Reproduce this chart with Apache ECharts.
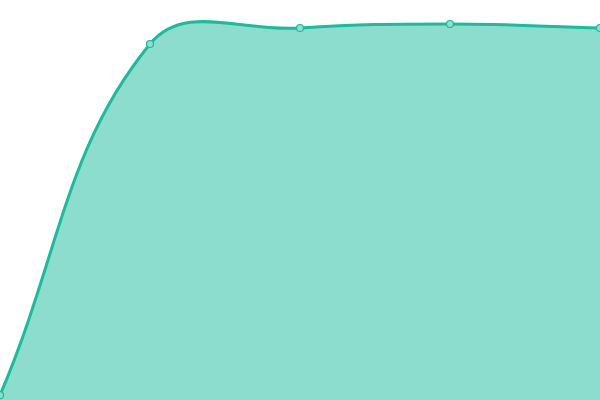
<!DOCTYPE html>
<html><head><meta charset="utf-8">
<script src="https://cdn.jsdelivr.net/npm/echarts@6/dist/echarts.min.js"></script>
<style>html,body{margin:0;padding:0;background:#fff}#c{width:600px;height:400px}</style>
</head><body><div id="c"></div>
<script>
const categories = ['A', 'B', 'C', 'D', 'E'];
const values = [1.2, 89, 93, 94, 93];
const TENSION = 0.4;
const LINE_COLOR = '#1abc9c';

function splinePath(pts, baseY) {
  const n = pts.length;
  const cps = [];
  for (let i = 0; i < n; i++) {
    const prev = pts[Math.max(0, i - 1)], cur = pts[i], next = pts[Math.min(n - 1, i + 1)];
    const d01 = Math.hypot(cur[0] - prev[0], cur[1] - prev[1]);
    const d12 = Math.hypot(next[0] - cur[0], next[1] - cur[1]);
    let s01 = d01 / (d01 + d12), s12 = d12 / (d01 + d12);
    if (!isFinite(s01)) s01 = 0;
    if (!isFinite(s12)) s12 = 0;
    const fa = TENSION * s01, fb = TENSION * s12;
    cps.push({
      before: [cur[0] - fa * (next[0] - prev[0]), cur[1] - fa * (next[1] - prev[1])],
      after: [cur[0] + fb * (next[0] - prev[0]), cur[1] + fb * (next[1] - prev[1])]
    });
  }
  let line = 'M' + pts[0][0] + ' ' + pts[0][1];
  for (let i = 1; i < n; i++) {
    const a = cps[i - 1].after, b = cps[i].before;
    line += ' C' + a[0] + ' ' + a[1] + ' ' + b[0] + ' ' + b[1] + ' ' + pts[i][0] + ' ' + pts[i][1];
  }
  const area = line + ' L' + pts[n - 1][0] + ' ' + baseY + ' L' + pts[0][0] + ' ' + baseY + ' Z';
  return { line, area };
}

const chart = echarts.init(document.getElementById('c'));
chart.setOption({
  animation: false,
  grid: { left: 0, right: 0, top: 0, bottom: 0 },
  xAxis: { type: 'category', data: categories, boundaryGap: false, show: false },
  yAxis: { type: 'value', min: 0, max: 100, show: false },
  series: [{
    type: 'custom',
    data: values.map((v, i) => [i, v]),
    encode: { x: 0, y: 1 },
    renderItem: function (params, api) {
      if (params.dataIndex !== 0) return null;
      const pts = values.map((v, i) => api.coord([i, v]));
      const baseY = api.coord([0, 0])[1];
      const p = splinePath(pts, baseY);
      return {
        type: 'group',
        children: [
          { type: 'path', shape: { pathData: p.area }, style: { fill: LINE_COLOR, opacity: 0.5 } },
          { type: 'path', shape: { pathData: p.line }, style: { fill: null, stroke: LINE_COLOR, lineWidth: 3 } }
        ]
      };
    }
  }, {
    type: 'line',
    data: values,
    z: 5,
    symbol: 'circle',
    symbolSize: 7,
    itemStyle: { color: '#8be0cf', borderColor: LINE_COLOR, borderWidth: 1.2 },
    lineStyle: { opacity: 0, width: 0 }
  }]
});
</script></body></html>
